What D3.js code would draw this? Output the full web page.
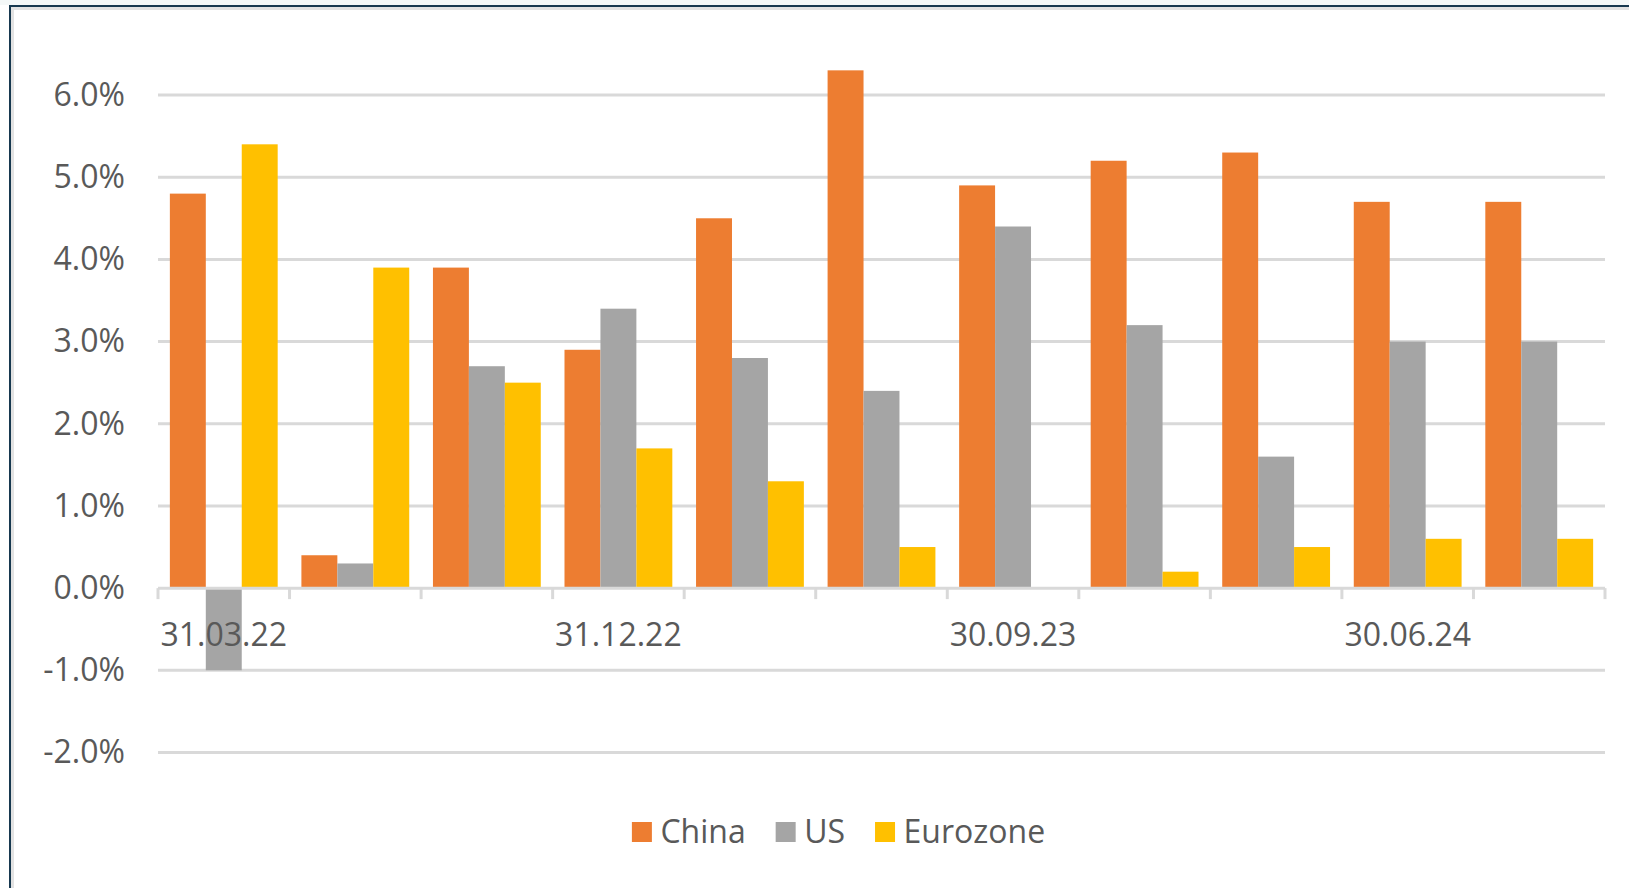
<!DOCTYPE html>
<html>
<head>
<meta charset="utf-8">
<script src="https://cdn.jsdelivr.net/npm/d3@7"></script>
<style>
  html, body { margin: 0; padding: 0; background: #fff; }
  svg { display: block; }
  text { font-family: "Open Sans", "Noto Sans", sans-serif; fill: #595959; }
</style>
</head>
<body>
<svg id="chart" width="1629" height="888"></svg>
<script>
const categories = ["31.03.22","30.06.22","30.09.22","31.12.22","31.03.23","30.06.23","30.09.23","31.12.23","31.03.24","30.06.24","30.09.24"];
const shownLabels = ["31.03.22","31.12.22","30.09.23","30.06.24"];
const seriesNames = ["China","US","Eurozone"];
const china    = [4.8, 0.4, 3.9, 2.9, 4.5, 6.3, 4.9, 5.2, 5.3, 4.7, 4.7];
const us       = [-1.0, 0.3, 2.7, 3.4, 2.8, 2.4, 4.4, 3.2, 1.6, 3.0, 3.0];
const eurozone = [5.4, 3.9, 2.5, 1.7, 1.3, 0.5, 0.0, 0.2, 0.5, 0.6, 0.6];
const yTicks = [-2, -1, 0, 1, 2, 3, 4, 5, 6];
const colors = ["#ED7D31", "#A5A5A5", "#FFC000"];

const seriesValues = [china, us, eurozone];
const svg = d3.select("#chart");
const FS = 32;

// frame
svg.append("rect").attr("x", 0).attr("y", 0).attr("width", 1629).attr("height", 5).attr("fill", "#f4f8f8");
svg.append("rect").attr("x", 11).attr("y", 7).attr("width", 1618).attr("height", 3).attr("fill", "#e2e2e2");
svg.append("rect").attr("x", 11).attr("y", 7).attr("width", 3).attr("height", 881).attr("fill", "#e2e2e2");
svg.append("rect").attr("x", 9).attr("y", 5).attr("width", 1620).attr("height", 2).attr("fill", "#17384f");
svg.append("rect").attr("x", 9).attr("y", 5).attr("width", 2).attr("height", 883).attr("fill", "#17384f");

const left = 158, right = 1605;
const x0 = d3.scaleBand().domain(categories).range([left, right]).padding(0);
const x1 = d3.scaleBand().domain(seriesNames).range([0, x0.bandwidth()]).paddingInner(0).paddingOuter(0.33);
const y = d3.scaleLinear().domain([-2, 6]).range([752.5, 95]);

// gridlines
svg.append("g").selectAll("line").data(yTicks.filter(d => d !== 0)).join("line")
  .attr("x1", left).attr("x2", right)
  .attr("y1", d => y(d)).attr("y2", d => y(d))
  .attr("stroke", "#d9d9d9").attr("stroke-width", 3);

// y labels (hyphen-minus as in the original)
const yAxis = d3.axisLeft(y).tickValues(yTicks)
  .tickFormat(d => (d < 0 ? "-" : "") + Math.abs(d).toFixed(1) + "%")
  .tickSize(0).tickPadding(0);
const ya = svg.append("g").attr("transform", `translate(125,0)`).call(yAxis);
ya.select(".domain").remove();
ya.selectAll("text").attr("font-size", FS).attr("fill", "#595959")
  .style("font-family", '"Open Sans", sans-serif');

// bars
const data = [];
categories.forEach((c, i) => seriesNames.forEach((s, j) => data.push({c, s, v: seriesValues[j][i], j})));
svg.append("g").selectAll("rect").data(data).join("rect")
  .attr("x", d => x0(d.c) + x1(d.s))
  .attr("width", x1.bandwidth())
  .attr("y", d => d.v >= 0 ? y(d.v) : y(0))
  .attr("height", d => Math.abs(y(d.v) - y(0)))
  .attr("fill", d => colors[d.j]);

// x axis line and ticks
const xAxisG = svg.append("g");
xAxisG.append("line").attr("x1", left).attr("x2", right).attr("y1", y(0)).attr("y2", y(0))
  .attr("stroke", "#d9d9d9").attr("stroke-width", 3);
const boundaries = categories.map(c => x0(c)).concat([right]);
xAxisG.selectAll("line.tick").data(boundaries).join("line").attr("class", "tick")
  .attr("x1", d => d).attr("x2", d => d).attr("y1", y(0)).attr("y2", y(0) + 11)
  .attr("stroke", "#d9d9d9").attr("stroke-width", 3);

// x labels
svg.append("g").selectAll("text").data(shownLabels).join("text")
  .attr("x", d => x0(d) + x0.bandwidth() / 2)
  .attr("y", 635).attr("dy", "0.35em")
  .attr("text-anchor", "middle").attr("font-size", FS)
  .text(d => d);

// legend
const lg = svg.append("g");
const items = lg.selectAll("g").data(seriesNames).join("g");
items.append("rect").attr("width", 20).attr("height", 20).attr("y", 822).attr("fill", (d, i) => colors[i]);
items.append("text").attr("x", 28.5).attr("y", 832).attr("dy", "0.35em").attr("font-size", FS).text(d => d);
let cx = 0;
const positions = [];
items.each(function() {
  const w = 28.5 + d3.select(this).select("text").node().getComputedTextLength();
  positions.push(cx);
  cx += w + 30;
});
const total = cx - 30;
const start = 838.5 - total / 2;
items.attr("transform", (d, i) => `translate(${start + positions[i]},0)`);
</script>
</body>
</html>
